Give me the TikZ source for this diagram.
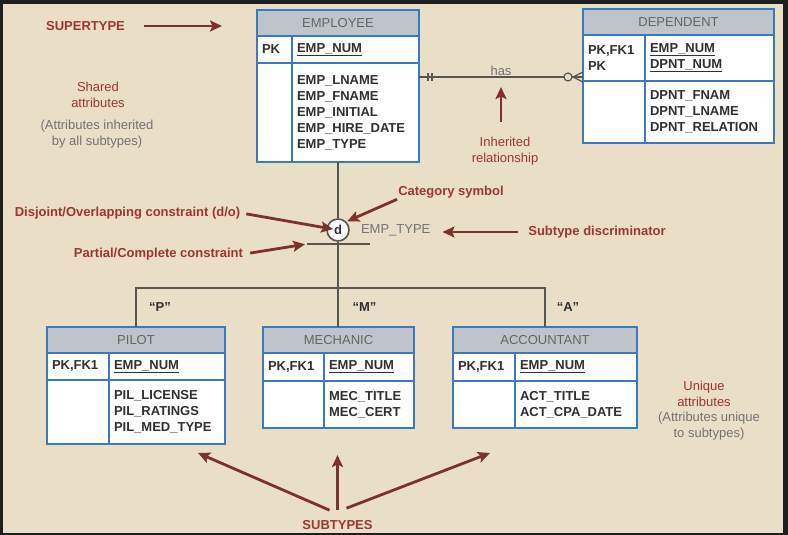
\documentclass[tikz,border=0pt]{standalone}
\usepackage{fontspec}
\setmainfont{Liberation Sans}
\usepackage{xcolor}
\usetikzlibrary{arrows.meta, positioning}
\definecolor{frame}{RGB}{30,30,30}
\definecolor{paper}{RGB}{233,223,199}
\definecolor{tblue}{RGB}{58,122,190}
\definecolor{hgrey}{RGB}{190,196,202}
\definecolor{htext}{RGB}{100,100,100}
\definecolor{ink}{RGB}{48,48,48}
\definecolor{notegrey}{RGB}{115,115,115}
\definecolor{wiregrey}{RGB}{88,86,78}
\definecolor{redtext}{RGB}{160,52,52}
\definecolor{redarrow}{RGB}{128,48,44}
\newcommand*{\erfont}{\fontsize{13}{16}\selectfont}

\begin{document}
\begin{tikzpicture}[x=1pt, y=-1pt,
        header/.style={rectangle, draw=tblue, line width=1.6pt, fill=hgrey, text=htext, font=\erfont, minimum height=26pt, inner sep=0pt, outer sep=0pt, anchor=north west},
        field/.style={rectangle, draw=tblue, line width=1.6pt, fill=white, text=ink, font=\erfont\bfseries, align=left, inner xsep=5pt, inner ysep=0pt, outer sep=0pt, anchor=north west},
        tag/.style={font=\erfont\bfseries, text=redtext, align=center, inner sep=1pt},
        soft/.style={font=\erfont, text=redtext, align=center, inner sep=1pt},
        note/.style={font=\erfont, text=notegrey, align=center, inner sep=1pt},
        quote/.style={font=\erfont\bfseries, text=ink, inner sep=1pt},
        arrow/.style={-{Stealth[length=12pt, width=11pt, inset=2.5pt]}, line width=2.8pt, redarrow},
        wire/.style={line width=1.4pt, wiregrey}
    ]
        \fill[frame] (0,0) rectangle (788,535);
        \fill[paper] (3,4) rectangle (783,533);

        \node[header, minimum width=162pt] (empHd) at (257,10) {EMPLOYEE};
        \node[field, text width=25pt, minimum height=27pt] (empKeyL) at (empHd.south west) {PK};
        \node[field, text width=117pt, minimum height=27pt] (empKeyR) at (empKeyL.north east) {\underline{EMP\_NUM}};
        \node[field, text width=25pt, minimum height=99pt] (empAttL) at (empKeyL.south west) {};
        \node[field, text width=117pt, minimum height=99pt] (empAttR) at (empAttL.north east) {EMP\_LNAME\\EMP\_FNAME\\EMP\_INITIAL\\EMP\_HIRE\_DATE\\EMP\_TYPE};

        \node[header, minimum width=191pt] (depHd) at (583,9) {DEPENDENT};
        \node[field, text width=52pt, minimum height=46pt] (depKeyL) at (depHd.south west) {PK,FK1\\PK};
        \node[field, text width=119pt, minimum height=46pt] (depKeyR) at (depKeyL.north east) {\underline{EMP\_NUM}\\\underline{DPNT\_NUM}};
        \node[field, text width=52pt, minimum height=62pt] (depAttL) at (depKeyL.south west) {};
        \node[field, text width=119pt, minimum height=62pt] (depAttR) at (depAttL.north east) {DPNT\_FNAM\\DPNT\_LNAME\\DPNT\_RELATION};

        \node[header, minimum width=178pt] (pilHd) at (47,327) {PILOT};
        \node[field, text width=52pt, minimum height=27pt] (pilKeyL) at (pilHd.south west) {PK,FK1};
        \node[field, text width=106pt, minimum height=27pt] (pilKeyR) at (pilKeyL.north east) {\underline{EMP\_NUM}};
        \node[field, text width=52pt, minimum height=64pt] (pilAttL) at (pilKeyL.south west) {};
        \node[field, text width=106pt, minimum height=64pt] (pilAttR) at (pilAttL.north east) {PIL\_LICENSE\\PIL\_RATINGS\\PIL\_MED\_TYPE};

        \node[header, minimum width=151pt] (mecHd) at (263,327) {MECHANIC};
        \node[field, text width=51pt, minimum height=28pt] (mecKeyL) at (mecHd.south west) {PK,FK1};
        \node[field, text width=80pt, minimum height=28pt] (mecKeyR) at (mecKeyL.north east) {\underline{EMP\_NUM}};
        \node[field, text width=51pt, minimum height=47pt] (mecAttL) at (mecKeyL.south west) {};
        \node[field, text width=80pt, minimum height=47pt] (mecAttR) at (mecAttL.north east) {MEC\_TITLE\\MEC\_CERT};

        \node[header, minimum width=184pt] (accHd) at (453,327) {ACCOUNTANT};
        \node[field, text width=52pt, minimum height=28pt] (accKeyL) at (accHd.south west) {PK,FK1};
        \node[field, text width=112pt, minimum height=28pt] (accKeyR) at (accKeyL.north east) {\underline{EMP\_NUM}};
        \node[field, text width=52pt, minimum height=47pt] (accAttL) at (accKeyL.south west) {};
        \node[field, text width=112pt, minimum height=47pt] (accAttR) at (accAttL.north east) {ACT\_TITLE\\ACT\_CPA\_DATE};

        \draw[wire, line width=1.2pt] (empAttR.north east) ++(0,14) coordinate (hasA) -- node[midway, above, note] (hasLbl) {has} (hasA -| depKeyL.west) coordinate (hasB);
        \draw[wire, line width=1.2pt] ([xshift=9pt]hasA) ++(0,-4) -- ++(0,8);
        \draw[wire, line width=1.2pt] ([xshift=13pt]hasA) ++(0,-4) -- ++(0,8);
        \draw[wire, line width=1.2pt] ([xshift=-10pt]hasB) -- ([yshift=5pt]hasB) ([xshift=-10pt]hasB) -- ([yshift=-5pt]hasB);
        \draw[wire, line width=1.2pt, fill=paper] ([xshift=-15pt]hasB) circle[radius=4pt];

        \node[circle, draw=wiregrey, line width=1.6pt, fill=white, minimum size=22pt, inner sep=0pt, font=\erfont\bfseries, text=ink] (cat) at (338,230) {d};
        \node[note, right=10pt of cat] (empType) {EMP\_TYPE};
        \coordinate (hub) at (338,288);
        \coordinate (barL) at (307,244);
        \coordinate (barR) at (370,244);
        \draw[wire] (empHd.center |- empAttR.south) -- (cat);
        \draw[wire] (cat) -- (hub);
        \draw[wire] (barL) -- (barR);
        \draw[wire] (pilHd.north) -- (pilHd.north |- hub) -- (accHd.north |- hub) -- (accHd.north);
        \draw[wire] (hub) -- (hub |- mecHd.north);

        \node[quote] (pQ) at ([shift={(24,-20)}]pilHd.north) {“P”};
        \node[quote] (mQ) at ([shift={(26,-20)}]mecHd.north) {“M”};
        \node[quote] (aQ) at ([shift={(23,-20)}]accHd.north) {“A”};

        \node[tag] (supLbl) at (85.5,26) {SUPERTYPE};
        \node[soft] (shaLbl) at (98,95) {Shared\\attributes};
        \node[note] (shaNote) at (97,134) {(Attributes inherited\\by all subtypes)};
        \node[soft] (inhLbl) at (505,151) {Inherited\\relationship};
        \node[tag] (catLbl) at (451,192) {Category symbol};
        \node[tag] (disLbl) at (127.5,213) {Disjoint/Overlapping constraint (d/o)};
        \node[tag] (parLbl) at (158.5,254) {Partial/Complete constraint};
        \node[tag] (subLbl) at (597,232) {Subtype discriminator};
        \node[soft] (uniLbl) at (704,394) {Unique\\attributes};
        \node[note] (uniNote) at (709,426) {(Attributes unique\\to subtypes)};
        \node[tag] (subTLbl) at (337.5,525) {SUBTYPES};

        \coordinate (tipP) at (198,453);
        \coordinate (tipM) at (337.5,455);
        \coordinate (tipA) at (490,453);

        \draw[arrow, shorten <=18pt, shorten >=35pt] (supLbl.east) -- (supLbl.east -| empHd.west);
        \draw[arrow, shorten <=14pt, shorten >=10pt] (inhLbl.north -| hasLbl.south) -- (hasLbl.south |- hasA);
        \draw[arrow, shorten >=1pt] (catLbl.south west) -- (cat.north east);
        \draw[arrow, shorten <=5pt, shorten >=5pt] (disLbl.east) -- (cat.center);
        \draw[arrow, shorten <=6pt, shorten >=2pt] (parLbl.east) -- (barL);
        \draw[arrow, shorten <=9pt, shorten >=11pt] (subLbl.west) -- (subLbl.west -| empType.east);
        \draw[arrow] ([shift={(-8,-9)}]subTLbl.north) -- (tipP);
        \draw[arrow] ([yshift=9pt]subTLbl.north) -- (tipM);
        \draw[arrow] ([shift={(9,-11)}]subTLbl.north) -- (tipA);
    \end{tikzpicture}
\end{document}
